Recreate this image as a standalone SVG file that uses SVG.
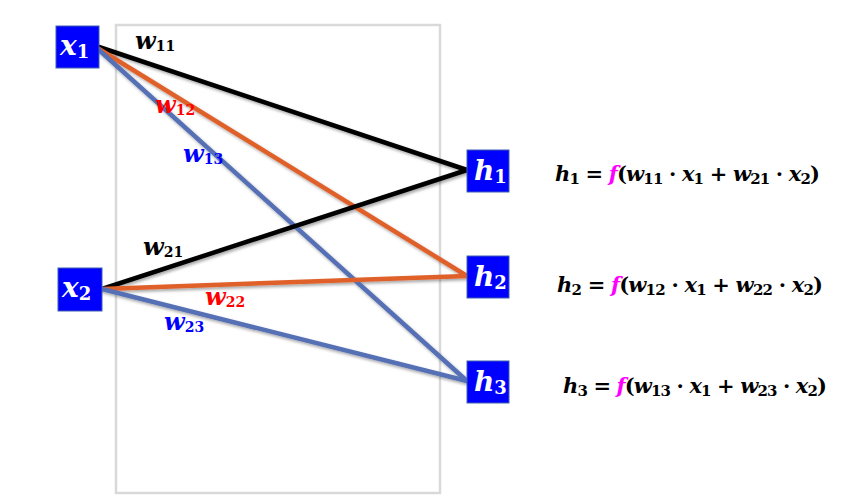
<svg xmlns="http://www.w3.org/2000/svg" width="857" height="503" viewBox="0 0 857 503">
<style>
.frame{fill:none;stroke:#d9d9d9;stroke-width:2.5}
.box{fill:#0000ff;stroke:#4060b0;stroke-width:1}
.nl{font-family:"DejaVu Serif",serif;font-weight:bold;font-style:italic;font-size:28px;fill:#fff}
.sub{font-style:normal;font-size:18px}
.wl{font-family:"DejaVu Serif",serif;font-weight:bold;font-style:italic;font-size:24px}
.ws{font-style:normal;font-size:14px}
.eq{font-family:"DejaVu Serif",serif;font-weight:bold;font-size:21px;fill:#000}
.v{font-style:italic}
.es{font-size:15px}
.f{fill:#ff00ff;font-style:italic}
.ln{fill:none;stroke-width:4.5;stroke-linecap:round}
.k{stroke:#000}
.o{stroke:#e0602a}
.b{stroke:#5570b5}
</style>
<defs>
<filter id="sh" x="-10%" y="-10%" width="120%" height="130%">
<feDropShadow dx="1.5" dy="2" stdDeviation="1.5" flood-color="#000" flood-opacity="0.35"/>
</filter>
</defs>
<rect class="frame" x="116" y="25" width="324" height="468"/>
<g id="connectors" filter="url(#sh)">
<line class="ln k" x1="99" y1="47" x2="467" y2="170"/>
<line class="ln o" x1="99" y1="49" x2="467" y2="276"/>
<line class="ln b" x1="99" y1="50" x2="467" y2="381"/>
<line class="ln k" x1="102" y1="289" x2="467" y2="170"/>
<line class="ln o" x1="102" y1="289" x2="467" y2="276"/>
<line class="ln b" x1="102" y1="289" x2="467" y2="381"/>
</g>
<g id="labels">
<text class="wl" x="135" y="49" fill="#000">w<tspan class="ws" dy="2">11</tspan></text>
<text class="wl" x="155" y="113" fill="#ff0000">w<tspan class="ws" dy="2">12</tspan></text>
<text class="wl" x="183" y="162" fill="#0000ff">w<tspan class="ws" dy="2">13</tspan></text>
<text class="wl" x="143" y="255" fill="#000">w<tspan class="ws" dy="2">21</tspan></text>
<text class="wl" x="205" y="305" fill="#ff0000">w<tspan class="ws" dy="2">22</tspan></text>
<text class="wl" x="164" y="330" fill="#0000ff">w<tspan class="ws" dy="2">23</tspan></text>
</g>
<g id="x1"><rect class="box" x="56" y="26" width="43" height="42"/><text class="nl" x="60" y="55">x<tspan class="sub" dy="3">1</tspan></text></g>
<g id="x2"><rect class="box" x="58" y="268" width="44" height="43"/><text class="nl" x="62" y="297">x<tspan class="sub" dy="3">2</tspan></text></g>
<g id="h1"><rect class="box" x="467" y="150" width="42" height="42"/><text class="nl" x="474" y="180">h<tspan class="sub" dy="3">1</tspan></text></g>
<g id="h2"><rect class="box" x="467" y="256" width="42" height="42"/><text class="nl" x="474" y="286">h<tspan class="sub" dy="3">2</tspan></text></g>
<g id="h3"><rect class="box" x="467" y="361" width="42" height="42"/><text class="nl" x="474" y="391">h<tspan class="sub" dy="3">3</tspan></text></g>
<g id="eq1"><text class="eq" x="555" y="181" textLength="265" lengthAdjust="spacing"><tspan class="v">h</tspan><tspan class="es" dy="3">1</tspan><tspan dy="-3"> = </tspan><tspan class="f">f</tspan>(<tspan class="v">w</tspan><tspan class="es" dy="3">11</tspan><tspan dy="-3"> · </tspan><tspan class="v">x</tspan><tspan class="es" dy="3">1</tspan><tspan dy="-3"> + </tspan><tspan class="v">w</tspan><tspan class="es" dy="3">21</tspan><tspan dy="-3"> · </tspan><tspan class="v">x</tspan><tspan class="es" dy="3">2</tspan><tspan dy="-3">)</tspan></text></g>
<g id="eq2"><text class="eq" x="557" y="292" textLength="266" lengthAdjust="spacing"><tspan class="v">h</tspan><tspan class="es" dy="3">2</tspan><tspan dy="-3"> = </tspan><tspan class="f">f</tspan>(<tspan class="v">w</tspan><tspan class="es" dy="3">12</tspan><tspan dy="-3"> · </tspan><tspan class="v">x</tspan><tspan class="es" dy="3">1</tspan><tspan dy="-3"> + </tspan><tspan class="v">w</tspan><tspan class="es" dy="3">22</tspan><tspan dy="-3"> · </tspan><tspan class="v">x</tspan><tspan class="es" dy="3">2</tspan><tspan dy="-3">)</tspan></text></g>
<g id="eq3"><text class="eq" x="563" y="393" textLength="264" lengthAdjust="spacing"><tspan class="v">h</tspan><tspan class="es" dy="3">3</tspan><tspan dy="-3"> = </tspan><tspan class="f">f</tspan>(<tspan class="v">w</tspan><tspan class="es" dy="3">13</tspan><tspan dy="-3"> · </tspan><tspan class="v">x</tspan><tspan class="es" dy="3">1</tspan><tspan dy="-3"> + </tspan><tspan class="v">w</tspan><tspan class="es" dy="3">23</tspan><tspan dy="-3"> · </tspan><tspan class="v">x</tspan><tspan class="es" dy="3">2</tspan><tspan dy="-3">)</tspan></text></g>
</svg>
